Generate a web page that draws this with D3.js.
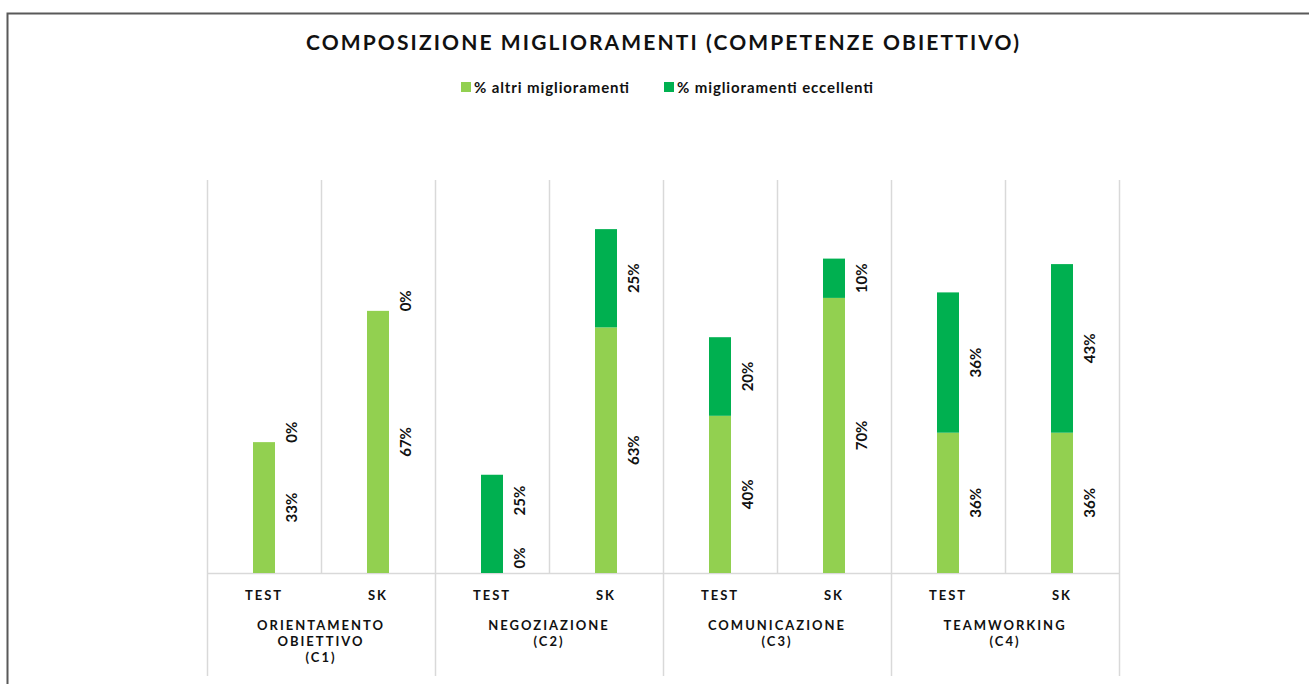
<!DOCTYPE html>
<html>
<head>
<meta charset="utf-8">
<script src="https://cdn.jsdelivr.net/npm/d3@7/dist/d3.min.js"></script>
<style>
  body { margin: 0; background: #fff; }
  svg text { font-family: Lato, "Open Sans", sans-serif; font-weight: bold; fill: #111; }
</style>
</head>
<body>
<div id="chart"></div>
<script>
// chart data
var competenze = [
    ["ORIENTAMENTO", "OBIETTIVO", "(C1)"],
    ["NEGOZIAZIONE", "(C2)"],
    ["COMUNICAZIONE", "(C3)"],
    ["TEAMWORKING", "(C4)"]
];
var gruppi = ["TEST", "SK"];
var serie = ["% altri miglioramenti", "% miglioramenti eccellenti"];
var altri      = [0.333, 0.667, 0,    0.625, 0.40, 0.70, 0.357, 0.357];
var eccellenti = [0,     0,     0.25, 0.25,  0.20, 0.10, 0.357, 0.429];
var colori = ["#92D050", "#00B050"];

var width = 1309, height = 684;
var config = {
    left: 207, right: 1119,
    top: 180, base: 573, bottom: 676,
    barWidth: 22,
    labelShift: 28,
    labelGap: 32,
    gridColor: "#D9D9D9"
};

var svg = d3.select("#chart").append("svg")
    .attr("width", width)
    .attr("height", height);

// outer frame (only top and left edges are visible)
svg.append("path")
    .attr("d", "M7.5," + height + " V13.5 H" + width)
    .attr("fill", "none")
    .attr("stroke", "#595959")
    .attr("stroke-width", 2);

// title
svg.append("text")
    .attr("x", 306).attr("y", 50)
    .attr("textLength", 713)
    .attr("lengthAdjust", "spacing")
    .style("font-size", "21px")
    .text("COMPOSIZIONE MIGLIORAMENTI (COMPETENZE OBIETTIVO)");

// legend
var legendX = [461, 664];
var legendLen = [155, 196];
var lg = svg.append("g").attr("class", "legend");
serie.forEach(function(s, i) {
    lg.append("rect")
        .attr("x", legendX[i]).attr("y", 82)
        .attr("width", 10).attr("height", 10)
        .attr("fill", colori[i]);
    lg.append("text")
        .attr("x", legendX[i] + 13).attr("y", 93)
        .attr("textLength", legendLen[i])
        .attr("lengthAdjust", "spacing")
        .style("font-size", "15px")
        .text(s);
});

// rows: one per bar (competenza x gruppo)
var rows = [];
competenze.forEach(function(c, ci) {
    gruppi.forEach(function(g, gi) {
        var k = ci * gruppi.length + gi;
        rows.push({ key: k, comp: ci, gruppo: g, altri: altri[k], eccellenti: eccellenti[k] });
    });
});

var x = d3.scaleBand()
    .domain(rows.map(function(d) { return d.key; }))
    .range([config.left, config.right])
    .padding(0);

var xc = d3.scaleBand()
    .domain(d3.range(competenze.length))
    .range([config.left, config.right])
    .padding(0);

var y = d3.scaleLinear()
    .domain([0, 1])
    .range([config.base, config.top]);

// gridlines
var grid = svg.append("g").attr("stroke", config.gridColor).attr("stroke-width", 1.5);
rows.forEach(function(d, i) {
    if (i % 2 === 1) {
        var gx = x(d.key) + 0.5;
        grid.append("line")
            .attr("x1", gx).attr("x2", gx)
            .attr("y1", config.top).attr("y2", config.base);
    }
});
d3.range(competenze.length + 1).forEach(function(i) {
    var gx = (i < competenze.length ? xc(i) : config.right) + 0.5;
    grid.append("line")
        .attr("x1", gx).attr("x2", gx)
        .attr("y1", config.top).attr("y2", config.bottom);
});
grid.append("line")
    .attr("x1", config.left).attr("x2", config.right + 0.5)
    .attr("y1", config.base + 0.5).attr("y2", config.base + 0.5);

// stacked bars
var stack = d3.stack().keys(["altri", "eccellenti"]);
var layers = stack(rows);

var bars = svg.append("g").attr("class", "bars");
bars.selectAll("g")
    .data(layers)
    .enter()
    .append("g")
    .attr("fill", function(d, i) { return colori[i]; })
    .selectAll("rect")
    .data(function(d) { return d; })
    .enter()
    .append("rect")
    .attr("x", function(d) { return x(d.data.key) + x.bandwidth() / 2 - config.barWidth / 2; })
    .attr("y", function(d) { return y(d[1]); })
    .attr("width", config.barWidth)
    .attr("height", function(d) { return y(d[0]) - y(d[1]); });

// data labels
var fmt = d3.format(".0%");
var labels = svg.append("g").attr("class", "labels");
rows.forEach(function(r, ri) {
    var prevTop = null;
    layers.forEach(function(layer) {
        var d = layer[ri];
        var v = d[1] - d[0];
        var ly = (y(d[0]) + y(d[1])) / 2;
        if (v === 0) ly -= 10;
        ly = Math.min(ly, config.base - 15);
        var lx = x(d.data.key) + x.bandwidth() / 2 + config.labelShift;
        var t = labels.append("text")
            .attr("text-anchor", "middle")
            .attr("dy", "0.35em")
            .style("font-size", "15px")
            .text(fmt(v));
        var half = t.node().getComputedTextLength() / 2;
        // keep a clear gap from the label below
        if (prevTop !== null && ly + half > prevTop - config.labelGap) {
            ly = prevTop - config.labelGap - half;
        }
        t.attr("transform", "translate(" + lx + "," + ly + ") rotate(-90)");
        prevTop = ly - half;
    });
});

// category axis
var ax = svg.append("g").attr("class", "axis");
rows.forEach(function(d) {
    ax.append("text")
        .attr("x", x(d.key) + x.bandwidth() / 2)
        .attr("y", 600)
        .attr("text-anchor", "middle")
        .style("font-size", "13px")
        .style("letter-spacing", "2px")
        .text(d.gruppo);
});
competenze.forEach(function(c, i) {
    c.forEach(function(line, j) {
        ax.append("text")
            .attr("x", xc(i) + xc.bandwidth() / 2)
            .attr("y", 630 + j * 16)
            .attr("text-anchor", "middle")
            .style("font-size", "13px")
            .style("letter-spacing", "2px")
            .text(line);
    });
});
</script>
</body>
</html>
